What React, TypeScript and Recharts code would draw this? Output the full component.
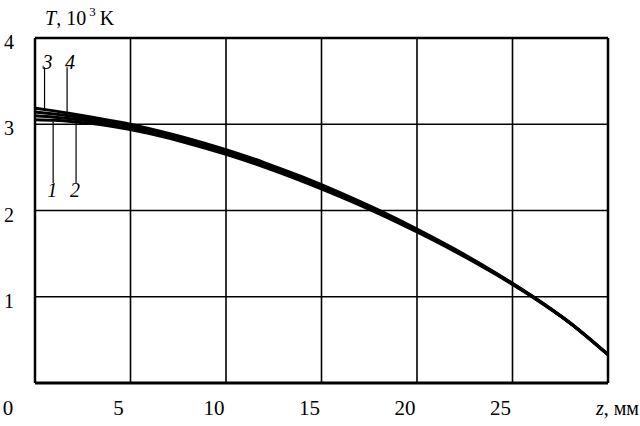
import { LineChart, Line, XAxis, YAxis, CartesianGrid, ReferenceLine } from 'recharts';

const zValues = [0, 1, 2, 3, 4, 5, 6, 8, 10, 12, 14, 16, 18, 20, 22, 24, 26, 28, 30];
const curve1 = [3.0525, 3.045, 3.03, 3.008, 2.978, 2.94, 2.891, 2.78, 2.651, 2.504, 2.339, 2.159, 1.964, 1.751, 1.523, 1.275, 1.002, 0.695, 0.328];
const curve2 = [3.0975, 3.082, 3.06, 3.033, 2.999, 2.96, 2.91, 2.799, 2.669, 2.521, 2.356, 2.174, 1.977, 1.762, 1.532, 1.281, 1.006, 0.697, 0.328];
const curve3 = [3.1875, 3.155, 3.12, 3.082, 3.042, 3.0, 2.949, 2.836, 2.705, 2.556, 2.389, 2.205, 2.004, 1.785, 1.549, 1.293, 1.014, 0.701, 0.328];
const curve4 = [3.1425, 3.118, 3.09, 3.057, 3.021, 2.98, 2.93, 2.817, 2.687, 2.539, 2.372, 2.19, 1.991, 1.774, 1.54, 1.287, 1.01, 0.699, 0.328];

const xTicks = [0, 5, 10, 15, 20, 25, 30];
const yTicks = [0, 1, 2, 3, 4];

// curve number leaders
const leaders = [
  { label: '3', z: 0.5, top: 3.66, bottom: 3.17, above: true },
  { label: '4', z: 1.68, top: 3.66, bottom: 3.1, above: true },
  { label: '1', z: 0.95, top: 3.045, bottom: 2.32, above: false },
  { label: '2', z: 2.15, top: 3.055, bottom: 2.32, above: false },
];

const data = zValues.map((z, i) => ({
  z,
  c1: curve1[i],
  c2: curve2[i],
  c3: curve3[i],
  c4: curve4[i],
}));

const FONT = "'Liberation Serif', 'Times New Roman', 'DejaVu Serif', serif";

const XTick = ({ x, y, payload }: any) => {
  if (payload.value === 30) return null;
  const dx = payload.value === 0 ? -27 : -12;
  return (
    <text x={x + dx} y={y + 32} textAnchor="middle" style={{ fontFamily: FONT, fontSize: 21 }} fill="#000">
      {payload.value}
    </text>
  );
};

const YTick = ({ x, y, payload }: any) => {
  if (payload.value === 0) return null;
  return (
    <text x={x - 26} y={y + 11} textAnchor="middle" style={{ fontFamily: FONT, fontSize: 20 }} fill="#000">
      {payload.value}
    </text>
  );
};

const leaderLabel = (label: string, above: boolean) => ({ viewBox }: any) => (
  <text
    x={viewBox.x + (above ? 3 : -1)}
    y={above ? viewBox.y + 2 : viewBox.y + viewBox.height + 14}
    textAnchor="middle"
    style={{ fontFamily: FONT, fontStyle: 'italic', fontSize: 20 }}
    fill="#000"
  >
    {label}
  </text>
);

export default function App() {
  return (
    <div style={{ position: 'fixed', left: 0, top: 0, width: 640, height: 426, background: '#fff' }}>
      <LineChart width={640} height={426} data={data} margin={{ top: 38, right: 32, bottom: 0, left: 0 }}>
        <CartesianGrid stroke="#000" strokeWidth={1.6} horizontalValues={yTicks} verticalValues={xTicks} />
        <XAxis
          dataKey="z"
          type="number"
          domain={[0, 30]}
          ticks={xTicks}
          height={43}
          tickSize={0}
          tickMargin={0}
          tick={<XTick />}
          axisLine={{ stroke: '#000', strokeWidth: 3 }}
          interval={0}
        />
        <YAxis
          type="number"
          domain={[0, 4]}
          ticks={yTicks}
          width={35}
          tickSize={0}
          tickMargin={0}
          tick={<YTick />}
          axisLine={{ stroke: '#000', strokeWidth: 2.5 }}
          interval={0}
        />
        <ReferenceLine y={4} stroke="#000" strokeWidth={2.5} />
        <ReferenceLine x={30} stroke="#000" strokeWidth={2.5} />
        {leaders.map((l) => (
          <ReferenceLine
            key={l.label}
            segment={[{ x: l.z, y: l.top }, { x: l.z, y: l.bottom }]}
            stroke="#000"
            strokeWidth={1.2}
            label={leaderLabel(l.label, l.above)}
          />
        ))}
        <Line dataKey="c1" type="monotone" stroke="#000" strokeWidth={3} dot={false} isAnimationActive={false} />
        <Line dataKey="c2" type="monotone" stroke="#000" strokeWidth={3} dot={false} isAnimationActive={false} />
        <Line dataKey="c4" type="monotone" stroke="#000" strokeWidth={3} dot={false} isAnimationActive={false} />
        <Line dataKey="c3" type="monotone" stroke="#000" strokeWidth={3} dot={false} isAnimationActive={false} />
      </LineChart>
      <svg width={640} height={426} style={{ position: 'absolute', left: 0, top: 0, pointerEvents: 'none' }}>
        <text x={45} y={25} style={{ fontFamily: FONT, fontSize: 20 }} fill="#000">
          <tspan style={{ fontStyle: 'italic' }}>T</tspan>
          <tspan>, 10</tspan>
          <tspan dx={3} dy={-9} style={{ fontSize: 13 }}>3</tspan>
          <tspan dx={4} dy={9}>K</tspan>
        </text>
        <text x={639} y={415} textAnchor="end" style={{ fontFamily: FONT, fontSize: 20 }} fill="#000">
          <tspan style={{ fontStyle: 'italic' }}>z</tspan>
          <tspan>, мм</tspan>
        </text>
      </svg>
    </div>
  );
}
